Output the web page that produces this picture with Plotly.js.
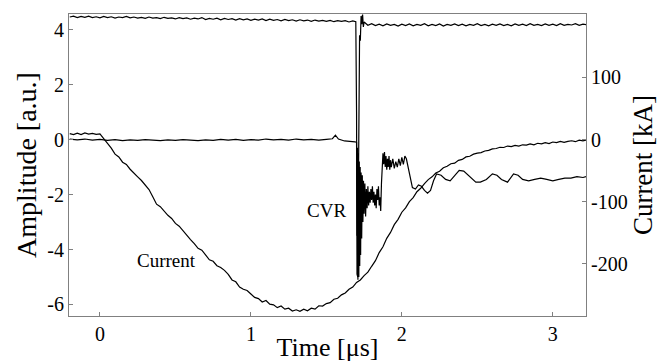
<!DOCTYPE html>
<html>
<head>
<meta charset="utf-8">
<script src="https://cdn.plot.ly/plotly-3.0.1.min.js"></script>
<style>html,body{margin:0;padding:0;background:#fff;}#chart{width:663px;height:362px;}</style>
</head>
<body>
<div id="chart"></div>
<script>
// Upper trace (a.u.)
const topTime = [-0.200,-0.175,-0.150,-0.125,-0.100,-0.075,-0.050,-0.025,0.000,0.025,0.050,0.075,0.100,0.125,0.150,0.175,0.200,0.225,0.250,0.275,0.300,0.325,0.350,0.375,0.400,0.425,0.450,0.475,0.500,0.525,0.550,0.575,0.600,0.625,0.650,0.675,0.700,0.725,0.750,0.775,0.800,0.825,0.850,0.875,0.900,0.925,0.950,0.975,1.000,1.025,1.050,1.075,1.100,1.125,1.150,1.175,1.200,1.225,1.250,1.275,1.300,1.325,1.350,1.375,1.400,1.425,1.450,1.475,1.500,1.525,1.550,1.575,1.600,1.625,1.650,1.675,1.695,
  1.700,1.703,1.708,1.712,1.716,1.720,1.725,1.730,1.735,1.740,1.745,1.750,
  1.775,1.800,1.825,1.850,1.875,1.900,1.925,1.950,1.975,2.000,2.025,2.050,2.075,2.100,2.125,2.150,2.175,2.200,2.225,2.250,2.275,2.300,2.325,2.350,2.375,2.400,2.425,2.450,2.475,2.500,2.525,2.550,2.575,2.600,2.625,2.650,2.675,2.700,2.725,2.750,2.775,2.800,2.825,2.850,2.875,2.900,2.925,2.950,2.975,3.000,3.025,3.050,3.075,3.100,3.125,3.150,3.175,3.200,3.220];
const topValue = [4.46,4.49,4.44,4.48,4.45,4.49,4.44,4.47,4.43,4.48,4.44,4.47,4.42,4.46,4.44,4.48,4.43,4.46,4.42,4.45,4.41,4.46,4.42,4.44,4.40,4.45,4.41,4.43,4.39,4.44,4.40,4.43,4.38,4.42,4.39,4.44,4.37,4.41,4.38,4.42,4.36,4.41,4.37,4.40,4.35,4.40,4.36,4.39,4.34,4.38,4.35,4.39,4.33,4.38,4.34,4.37,4.32,4.37,4.33,4.36,4.31,4.36,4.32,4.35,4.30,4.35,4.31,4.34,4.30,4.34,4.29,4.33,4.30,4.33,4.28,4.32,4.29,
  1.0,-4.9,-5.0,-2.0,2.5,3.8,3.6,4.5,4.2,4.55,4.1,4.28,
  4.16,4.22,4.15,4.20,4.14,4.21,4.16,4.19,4.13,4.20,4.15,4.21,4.14,4.19,4.16,4.22,4.14,4.19,4.15,4.21,4.13,4.19,4.16,4.21,4.15,4.20,4.14,4.19,4.16,4.22,4.15,4.19,4.14,4.20,4.16,4.21,4.15,4.19,4.14,4.21,4.16,4.20,4.15,4.22,4.16,4.19,4.15,4.21,4.16,4.20,4.15,4.22,4.16,4.19,4.17,4.22,4.16,4.20,4.18];

// CVR trace (a.u.)
const cvrTime = [-0.20,-0.15,-0.10,-0.05,0.00,0.05,0.10,0.15,0.20,0.25,0.30,0.35,0.40,0.45,0.50,0.55,0.60,0.65,0.70,0.75,0.80,0.85,0.90,0.95,1.00,1.05,1.10,1.15,1.20,1.25,1.30,1.35,1.40,1.45,1.50,1.54,1.56,1.58,1.62,1.66,1.69,
  1.700,1.703,1.706,1.709,1.712,1.715,1.718,1.721,1.724,1.727,1.730,1.734,1.738,1.742,1.746,1.750,1.755,1.760,1.765,1.770,1.775,1.780,1.785,1.790,1.795,1.800,1.805,1.810,1.815,1.820,1.825,1.830,1.835,1.840,1.845,1.850,1.855,1.860,1.865,
  1.870,1.875,1.880,1.885,1.890,1.895,1.900,1.905,1.910,1.915,1.920,1.925,1.930,1.940,1.950,1.960,1.970,1.980,1.990,2.000,2.010,2.020,2.030,
  2.050,2.070,2.090,2.110,2.130,2.150,2.170,2.190,2.210,2.230,2.260,2.290,2.320,2.350,2.380,2.410,2.450,2.490,2.520,2.560,2.600,2.630,2.660,2.700,2.740,2.770,2.800,2.840,2.880,2.920,2.960,3.000,3.040,3.080,3.120,3.160,3.200,3.220];
const cvrValue = [0.02,-0.01,0.02,-0.02,0.01,-0.03,0.00,-0.04,-0.01,-0.03,0.00,-0.02,-0.04,-0.01,-0.03,0.00,-0.02,-0.04,-0.01,-0.03,0.01,-0.02,0.01,-0.03,0.00,-0.02,0.02,-0.01,0.01,-0.02,0.02,-0.01,0.01,-0.02,0.01,0.03,0.16,0.02,-0.05,-0.06,-0.08,
  -0.10,-3.5,-0.3,-5.1,-0.5,-5.0,-0.8,-4.6,-1.0,-4.2,-1.2,-3.6,-1.3,-3.0,-1.5,-2.7,-1.6,-2.8,-1.8,-2.5,-1.7,-2.4,-1.9,-2.3,-1.8,-2.2,-1.7,-2.3,-1.9,-2.4,-2.0,-2.5,-1.8,-2.2,-1.7,-2.4,-2.1,-2.6,-1.6,
  -0.9,-0.5,-0.9,-0.45,-1.0,-0.6,-1.1,-0.7,-1.0,-0.6,-1.1,-0.75,-1.0,-0.7,-1.05,-0.8,-1.0,-0.7,-0.95,-0.65,-0.9,-0.6,-0.7,
  -1.3,-1.75,-1.8,-1.65,-1.7,-1.85,-1.95,-1.85,-1.5,-1.25,-1.3,-1.45,-1.5,-1.3,-1.12,-1.15,-1.35,-1.55,-1.55,-1.45,-1.25,-1.3,-1.45,-1.55,-1.25,-1.3,-1.45,-1.5,-1.45,-1.4,-1.45,-1.5,-1.45,-1.4,-1.4,-1.35,-1.38,-1.35];

// Current trace (kA)
const currentTime = [-0.200,-0.175,-0.150,-0.125,-0.100,-0.075,-0.050,-0.025,0.000,0.025,0.050,0.075,0.100,0.125,0.150,0.175,0.200,0.225,0.250,0.275,0.300,0.325,0.350,0.375,0.400,0.425,0.450,0.475,0.500,0.525,0.550,0.575,0.600,0.625,0.650,0.675,0.700,0.725,0.750,0.775,0.800,0.825,0.850,0.875,0.900,0.925,0.950,0.975,1.000,1.025,1.050,1.075,1.100,1.125,1.150,1.175,1.200,1.225,1.250,1.275,1.300,1.325,1.350,1.375,1.400,1.425,1.450,1.475,1.500,1.525,1.550,1.575,1.600,1.625,1.650,1.675,1.700,1.725,1.750,1.775,1.800,1.825,1.850,1.875,1.900,1.925,1.950,1.975,2.000,2.025,2.050,2.075,2.100,2.125,2.150,2.175,2.200,2.225,2.250,2.275,2.300,2.325,2.350,2.375,2.400,2.425,2.450,2.475,2.500,2.525,2.550,2.575,2.600,2.625,2.650,2.675,2.700,2.725,2.750,2.775,2.800,2.825,2.850,2.875,2.900,2.925,2.950,2.975,3.000,3.025,3.050,3.075,3.100,3.125,3.150,3.175,3.200,3.220];
const currentKA = [9.5,7.8,10.2,8.1,10.5,8.6,9.9,8.2,9.0,1.5,-6.6,-14.0,-23.5,-28.0,-36.5,-40.0,-47.8,-54.5,-60.0,-66.0,-74.0,-80.5,-92.0,-104.0,-108.0,-115.5,-122.0,-127.0,-135.0,-139.5,-147.0,-153.0,-161.0,-167.5,-175.0,-178.0,-186.0,-193.5,-196.0,-203.0,-206.0,-210.5,-217.0,-226.0,-229.0,-237.5,-241.0,-243.0,-248.5,-254.0,-256.0,-261.5,-259.0,-265.0,-266.0,-270.5,-268.0,-273.0,-271.5,-276.0,-274.0,-276.5,-273.0,-275.5,-271.5,-273.0,-267.5,-268.0,-264.0,-262.5,-257.0,-255.5,-250.0,-247.0,-241.0,-237.5,-230.0,-226.0,-219.0,-213.5,-204.0,-195.0,-182.0,-172.5,-159.0,-149.5,-137.0,-128.5,-117.0,-110.0,-100.0,-93.5,-84.0,-78.5,-71.0,-64.5,-60.0,-54.0,-51.0,-45.5,-43.0,-39.0,-38.0,-33.5,-32.0,-28.0,-27.0,-23.5,-22.0,-21.0,-18.5,-17.5,-15.0,-14.5,-12.5,-12.8,-10.5,-11.5,-9.5,-10.5,-8.5,-9.0,-7.0,-8.5,-6.0,-7.0,-5.0,-6.5,-4.0,-5.0,-3.0,-4.5,-3.0,-2.0,-3.5,-1.0,-2.0,-1.0];

const xTicks = [0,1,2,3];
const yTicks = [-6,-4,-2,0,2,4];
const y2Ticks = [-200,-100,0,100];

const serif = 'Liberation Serif, Times New Roman, serif';
const lineStyle = {color:'#000', width:1.2};

const traces = [
  {x: topTime, y: topValue, type:'scatter', mode:'lines', line: lineStyle, name:'Signal', yaxis:'y'},
  {x: cvrTime, y: cvrValue, type:'scatter', mode:'lines', line: lineStyle, name:'CVR', yaxis:'y'},
  {x: currentTime, y: currentKA, type:'scatter', mode:'lines', line: lineStyle, name:'Current', yaxis:'y2'}
];

const axisCommon = {
  showline:true, linecolor:'#808080', linewidth:1,
  ticks:'inside', ticklen:4, tickcolor:'#808080', tickwidth:1,
  showgrid:false, zeroline:false,
  tickfont:{family:serif, size:20, color:'#000'}
};

const layout = {
  width:663, height:362,
  margin:{l:69, r:77, t:14, b:46, pad:0},
  paper_bgcolor:'#fff', plot_bgcolor:'#fff',
  showlegend:false,
  font:{family:serif, color:'#000'},
  xaxis: Object.assign({}, axisCommon, {
    range:[-0.205, 3.22], tickvals:xTicks, ticktext:xTicks.map(String), mirror:true,
    title:{text:'Time [μs]', font:{family:serif, size:26}, standoff:0}
  }),
  yaxis: Object.assign({}, axisCommon, {
    range:[-6.42, 4.57], tickvals:yTicks, ticktext:yTicks.map(String), mirror:true,
    title:{text:'Amplitude [a.u.]', font:{family:serif, size:28}, standoff:2}
  }),
  yaxis2: Object.assign({}, axisCommon, {
    overlaying:'y', side:'right', range:[-284, 202],
    tickvals:y2Ticks, ticktext:y2Ticks.map(String),
    title:{text:'Current [kA]', font:{family:serif, size:27}, standoff:0}
  }),
  annotations:[
    {x:1.503, y:-2.57, xref:'x', yref:'y', text:'CVR', showarrow:false, font:{family:serif, size:19, color:'#000'}},
    {x:0.44, y:-4.39, xref:'x', yref:'y', text:'Current', showarrow:false, font:{family:serif, size:19, color:'#000'}}
  ]
};

Plotly.newPlot('chart', traces, layout, {displayModeBar:false, staticPlot:true});
</script>
</body>
</html>
